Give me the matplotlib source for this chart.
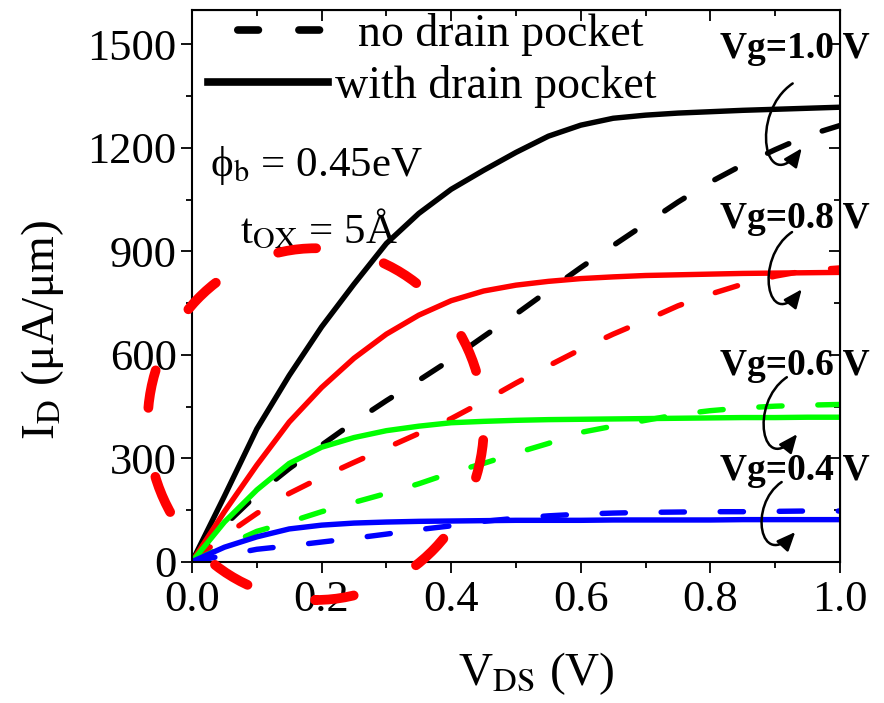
import matplotlib
matplotlib.use('Agg')
import matplotlib.pyplot as plt
import numpy as np
from matplotlib.patches import Ellipse, FancyArrowPatch
from matplotlib.path import Path
from matplotlib.lines import Line2D
from matplotlib.ticker import MultipleLocator
from matplotlib.transforms import IdentityTransform

plt.rcParams['font.family'] = ['Liberation Serif', 'DejaVu Serif']
plt.rcParams['mathtext.fontset'] = 'stix'

# V_DS (V)
vds = [0.0, 0.05, 0.1, 0.15, 0.2, 0.25, 0.3, 0.35, 0.4, 0.45, 0.5,
       0.55, 0.6, 0.65, 0.7, 0.75, 0.8, 0.85, 0.9, 0.95, 1.0]

# I_D (uA/um), with drain pocket (solid)
vg10_pocket = [0, 190, 385, 540, 681, 805, 923, 1010, 1080, 1135, 1187,
               1234, 1266, 1286, 1295, 1301, 1305, 1309, 1312, 1315, 1318]
vg08_pocket = [0, 145, 280, 405, 505, 590, 660, 715, 757, 785, 802,
               813, 821, 826, 830, 832, 834, 836, 837, 838, 839]
vg06_pocket = [0, 115, 208, 285, 332, 360, 380, 393, 403, 407, 410,
               412, 413, 414, 415, 416, 417, 418, 418, 419, 419]
vg04_pocket = [0, 42, 72, 95, 106, 112, 115, 117, 118, 119, 120,
               120, 120, 121, 121, 121, 121, 122, 122, 122, 122]

# I_D (uA/um), no drain pocket (dashed)
vg10_plain = [0, 105, 195, 270, 338, 405, 467, 526, 587, 653, 718,
              786, 853, 917, 980, 1043, 1101, 1151, 1195, 1236, 1265]
vg08_plain = [0, 75, 140, 198, 245, 288, 330, 372, 415, 465, 518,
              568, 616, 660, 700, 742, 776, 805, 828, 845, 852]
vg06_plain = [0, 45, 88, 115, 145, 172, 198, 226, 258, 285, 315,
              343, 375, 393, 410, 427, 438, 446, 451, 454, 456]
vg04_plain = [0, 18, 36, 46, 57, 68, 80, 93, 104, 117, 126,
              133, 138, 141, 143, 144, 145, 145, 146, 147, 147]

colors = ['black', '#ff0000', '#00ff00', '#0000ff']
pocket = [vg10_pocket, vg08_pocket, vg06_pocket, vg04_pocket]
plain = [vg10_plain, vg08_plain, vg06_plain, vg04_plain]

vg_labels = ['Vg=1.0 V', 'Vg=0.8 V', 'Vg=0.6 V', 'Vg=0.4 V']
label_x = 0.93
label_y = [1488, 996, 569, 265]
# curly arrows: start (under label) -> end (near dashed curve)
arrow_start = [(0.927, 1387), (0.926, 956), (0.918, 535), (0.910, 231)]
arrow_end = [(0.941, 1199), (0.941, 790), (0.934, 370), (0.931, 86)]

fig = plt.figure(figsize=(8.84, 7.03), dpi=100)
ax = fig.add_axes([0.2172, 0.2010, 0.7330, 0.7848])
ax.set_xlim(0, 1.0)
ax.set_ylim(0, 1600)

dash = (0, (4.3, 6.6))
for c, yp, yn in zip(colors, pocket, plain):
    ax.plot(vds, yn, color=c, lw=3.9, linestyle=dash, dash_capstyle='round')
    ax.plot(vds, yp, color=c, lw=3.9, solid_capstyle='butt')

# big dashed red ellipse
ell = Ellipse((0.191, 399), width=0.519, height=1020, fill=False,
              edgecolor='#ff0000', lw=7, linestyle=(0, (3.94, 7.17)),
              capstyle='round', clip_on=False, zorder=5)
ax.add_patch(ell)

ax.xaxis.set_major_locator(MultipleLocator(0.2))
ax.xaxis.set_minor_locator(MultipleLocator(0.1))
ax.yaxis.set_major_locator(MultipleLocator(300))
ax.yaxis.set_minor_locator(MultipleLocator(150))
ax.xaxis.set_major_formatter(lambda v, p: f'{v:.1f}')
ax.tick_params(which='major', direction='out', length=8, width=1.3,
               labelsize=32, top=False, right=False)
ax.tick_params(which='minor', direction='out', length=4, width=1.3,
               top=False, right=False)
ax.tick_params(axis='y', pad=3)
ax.tick_params(axis='x', pad=5)
for s in ax.spines.values():
    s.set_linewidth(1.5)

secx = ax.secondary_xaxis('top')
secx.xaxis.set_major_locator(MultipleLocator(0.2))
secx.xaxis.set_minor_locator(MultipleLocator(0.1))
secx.tick_params(which='major', direction='in', length=8, width=1.3, labeltop=False)
secx.tick_params(which='minor', direction='in', length=4, width=1.3)
secy = ax.secondary_yaxis('right')
secy.yaxis.set_major_locator(MultipleLocator(300))
secy.yaxis.set_minor_locator(MultipleLocator(150))
secy.tick_params(which='major', direction='in', length=8, width=1.3, labelright=False)
secy.tick_params(which='minor', direction='in', length=4, width=1.3)

ax.set_xlabel(r'V$_{\rm DS}$ (V)', fontsize=34)
ax.xaxis.set_label_coords(0.532, -0.2235)
ax.xaxis.label.set_verticalalignment('baseline')
ax.set_ylabel(r'I$_{\rm D}$ (μA/μm)', fontsize=34)
ax.yaxis.set_label_coords(-0.213, 0.42)
ax.yaxis.label.set_verticalalignment('baseline')

# legend
handles = [Line2D([], [], color='black', lw=5.5, linestyle=(4.1, (2.7, 5.3)),
                  dash_capstyle='round'),
           Line2D([], [], color='black', lw=5.5)]
ax.legend(handles, ['  no drain pocket', 'with drain pocket'], loc='upper left',
          bbox_to_anchor=(0.025, 0.995), frameon=False, fontsize=33,
          handlelength=2.62, handletextpad=0.15, borderpad=0,
          borderaxespad=0, labelspacing=0.2)

ax.text(0.028, 1150, r'ϕ$_{\rm b}$ = 0.45eV', fontsize=31, va='center')
ax.text(0.074, 961, r't$_{\rm OX}$ = 5Å', fontsize=31, va='center')

for lab, ly in zip(vg_labels, label_y):
    ax.text(label_x, ly, lab, fontsize=27, fontweight='bold', ha='center',
            va='center', clip_on=False, zorder=6)


def curl_arrow(start, end):
    x0, y0 = ax.transData.transform(start)
    x1, y1 = ax.transData.transform(end)
    k = (y0 - y1) / 65.0
    c1 = (x0 - 44 * k, y0 - 30 * k)
    c2 = (x0 - 28 * k, y0 - 115 * k)
    path = Path([(x0, y0), c1, c2, (x1, y1)],
                [Path.MOVETO, Path.CURVE4, Path.CURVE4, Path.CURVE4])
    arr = FancyArrowPatch(path=path, arrowstyle='-|>,head_length=0.7,head_width=0.3',
                          mutation_scale=16, lw=1.8, color='black',
                          transform=IdentityTransform(), zorder=7)
    fig.add_artist(arr)


for s, e in zip(arrow_start, arrow_end):
    curl_arrow(s, e)

fig.savefig('out.png', dpi=100)
